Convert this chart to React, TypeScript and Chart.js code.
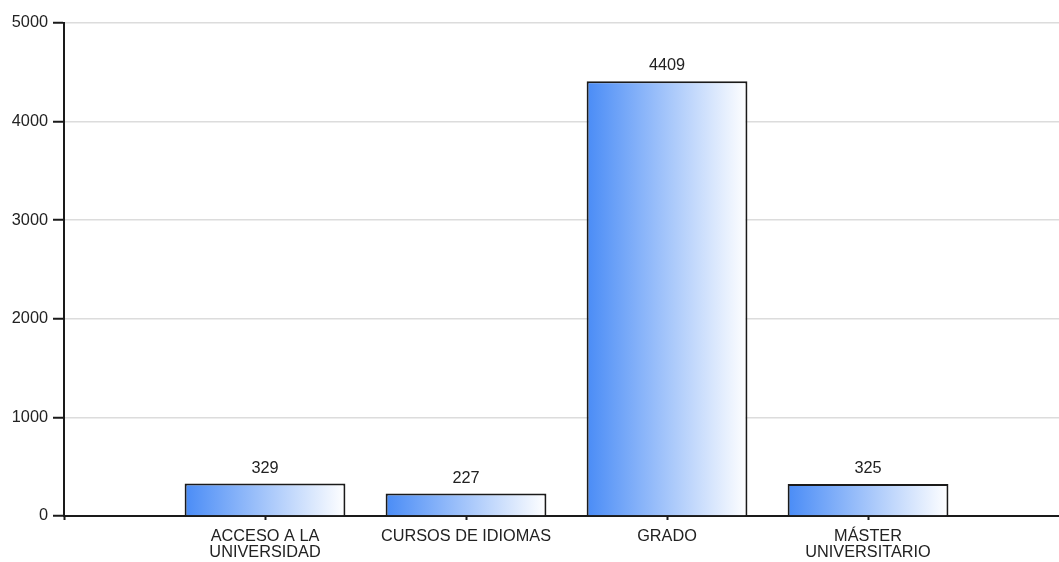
import { useEffect, useRef } from 'react';
import { Chart, registerables } from 'chart.js';

Chart.register(...registerables);

const categories: string[][] = [
  ['ACCESO A LA', 'UNIVERSIDAD'],
  ['CURSOS DE IDIOMAS'],
  ['GRADO'],
  ['MÁSTER', 'UNIVERSITARIO'],
];
const values: number[] = [329, 227, 4409, 325];
const yTicks: number[] = [0, 1000, 2000, 3000, 4000, 5000];

const FONT = "'Liberation Sans', Arial, sans-serif";

export default function App() {
  const ref = useRef<HTMLCanvasElement>(null);

  useEffect(() => {
    if (!ref.current) return;

    const gradientPlugin = {
      id: 'barGradient',
      beforeDatasetsDraw(chart: any) {
        const ctx = chart.ctx;
        chart.getDatasetMeta(0).data.forEach((el: any) => {
          const { x, width } = el.getProps(['x', 'width'], true);
          const g = ctx.createLinearGradient(x - width / 2, 0, x + width / 2, 0);
          g.addColorStop(0, '#4a8cf6');
          g.addColorStop(1, '#ffffff');
          el.options = { ...el.options, backgroundColor: g };
        });
      },
    };

    const valueLabelPlugin = {
      id: 'valueLabels',
      afterDatasetsDraw(chart: any) {
        const ctx = chart.ctx;
        ctx.save();
        ctx.font = `16.3px ${FONT}`;
        ctx.fillStyle = '#222';
        ctx.textAlign = 'center';
        ctx.textBaseline = 'alphabetic';
        chart.getDatasetMeta(0).data.forEach((el: any, i: number) => {
          ctx.fillText(String(values[i]), el.x, el.y - 11);
        });
        ctx.restore();
      },
    };

    const chart = new Chart(ref.current, {
      type: 'bar',
      data: {
        datasets: [
          {
            data: values.map((v, i) => ({ x: i + 1, y: v })),
            backgroundColor: '#4a8cf6',
            borderColor: '#1a1a1a',
            borderWidth: 2,
            barPercentage: 1,
            categoryPercentage: 0.8,
          },
        ],
      },
      options: {
        animation: false,
        responsive: true,
        maintainAspectRatio: false,
        layout: { padding: { top: 23, right: 0, left: 0, bottom: 0 } },
        plugins: { legend: { display: false }, tooltip: { enabled: false } },
        scales: {
          x: {
            type: 'linear',
            offset: false,
            min: 0,
            max: 4.95,
            afterBuildTicks: (scale: any) => {
              scale.ticks = [0, 1, 2, 3, 4].map((v) => ({ value: v }));
            },
            afterFit: (scale: any) => {
              scale.height = 46;
            },
            ticks: {
              autoSkip: false,
              maxRotation: 0,
              padding: 8,
              color: '#222',
              font: { family: FONT, size: 16.3, lineHeight: 1.02 },
              callback: (v: any) => (v >= 1 && v <= categories.length ? categories[v - 1] : ''),
            },
            grid: {
              offset: false,
              drawOnChartArea: false,
              drawTicks: true,
              tickLength: 4,
              tickColor: '#1a1a1a',
              tickWidth: 2,
            },
            border: { color: '#1a1a1a', width: 2 },
          },
          y: {
            min: 0,
            max: 5000,
            afterBuildTicks: (scale: any) => {
              scale.ticks = yTicks.map((v) => ({ value: v }));
            },
            afterFit: (scale: any) => {
              scale.width = 64;
            },
            ticks: {
              padding: 5,
              color: '#222',
              font: { family: FONT, size: 16.3 },
              callback: (v: any) => String(v),
            },
            grid: {
              color: '#dcdcdc',
              lineWidth: 1.5,
              drawTicks: true,
              tickLength: 11,
              tickColor: '#1a1a1a',
              tickWidth: 2,
            },
            border: { color: '#1a1a1a', width: 2 },
          },
        },
      },
      plugins: [gradientPlugin, valueLabelPlugin],
    } as any);

    return () => chart.destroy();
  }, []);

  return (
    <div style={{ position: 'fixed', left: 0, top: 0, width: 1059, height: 562, background: '#fff' }}>
      <canvas ref={ref} />
    </div>
  );
}
